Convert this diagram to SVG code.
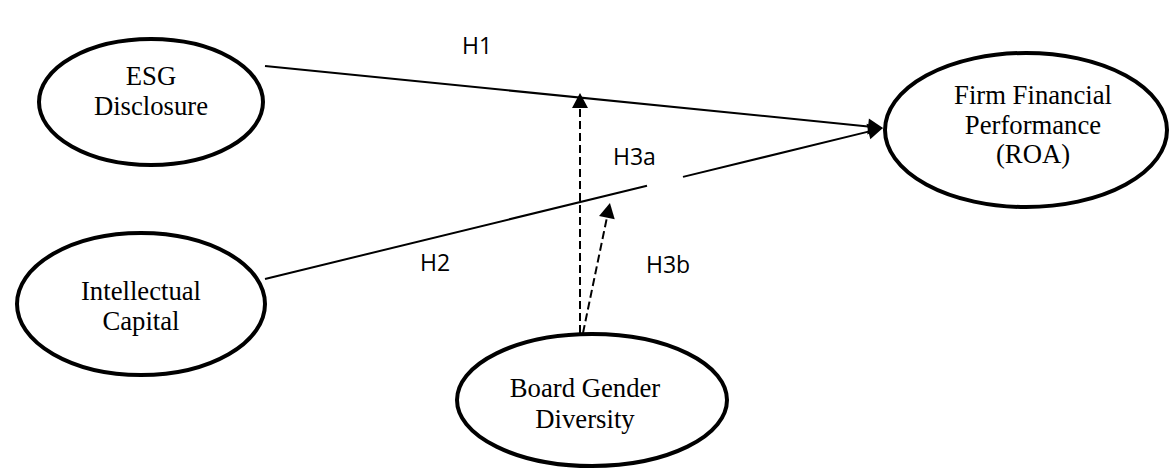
<svg xmlns="http://www.w3.org/2000/svg" width="1171" height="469" viewBox="0 0 1171 469">
  <style>
    .node ellipse { fill: #ffffff; stroke: #000000; stroke-width: 4; }
    .node text { font-family: "Liberation Serif", "Times New Roman", serif; font-size: 26.7px; fill: #000000; text-anchor: middle; }
    .edge { fill: none; stroke: #000000; stroke-width: 2; }
    .dashed { stroke-dasharray: 8 4; }
    .label { font-family: "Open Sans", "Liberation Sans", sans-serif; font-size: 23px; fill: #000000; }
  </style>
  <defs>
    <marker id="arrow" markerUnits="userSpaceOnUse" markerWidth="15" markerHeight="16" refX="0" refY="8" orient="auto" overflow="visible">
      <path d="M0,0 L15,8 L0,16 z" fill="#000000"/>
    </marker>
  </defs>

  <rect width="1171" height="469" fill="#ffffff"/>

  <!-- connectors -->
  <g id="connectors">
    <!-- H1: ESG Disclosure -> Firm Financial Performance -->
    <line class="edge" x1="265" y1="66" x2="868.1" y2="126.5" marker-end="url(#arrow)"/>
    <!-- H2: Intellectual Capital -> Firm Financial Performance (broken behind the H3a label) -->
    <line class="edge" x1="265" y1="279" x2="647" y2="185.7"/>
    <line class="edge" x1="683" y1="176.9" x2="868.4" y2="131.6" marker-end="url(#arrow)"/>
    <!-- H3a / H3b: moderating paths from Board Gender Diversity -->
    <line class="edge dashed" x1="580" y1="333" x2="580" y2="108" marker-end="url(#arrow)"/>
    <line class="edge dashed" x1="583" y1="333" x2="606.9" y2="217.7" marker-end="url(#arrow)"/>
  </g>

  <!-- path labels -->
  <g id="labels">
    <text class="label" x="462" y="54">H1</text>
    <text class="label" x="420" y="271">H2</text>
    <text class="label" x="613" y="165">H3a</text>
    <text class="label" x="646" y="273">H3b</text>
  </g>

  <g id="node-esg" class="node">
    <ellipse cx="151" cy="102" rx="112" ry="63"/>
    <text x="151" y="85">ESG</text>
    <text x="151" y="115">Disclosure</text>
  </g>

  <g id="node-ic" class="node">
    <ellipse cx="141" cy="304" rx="124" ry="71"/>
    <text x="141" y="300">Intellectual</text>
    <text x="141" y="330">Capital</text>
  </g>

  <g id="node-ffp" class="node">
    <ellipse cx="1026" cy="130" rx="141" ry="77"/>
    <text x="1033" y="104">Firm Financial</text>
    <text x="1033" y="134">Performance</text>
    <text x="1033" y="163">(ROA)</text>
  </g>

  <g id="node-bgd" class="node">
    <ellipse cx="592" cy="400" rx="135" ry="66"/>
    <text x="585" y="397">Board Gender</text>
    <text x="585" y="428">Diversity</text>
  </g>
</svg>
